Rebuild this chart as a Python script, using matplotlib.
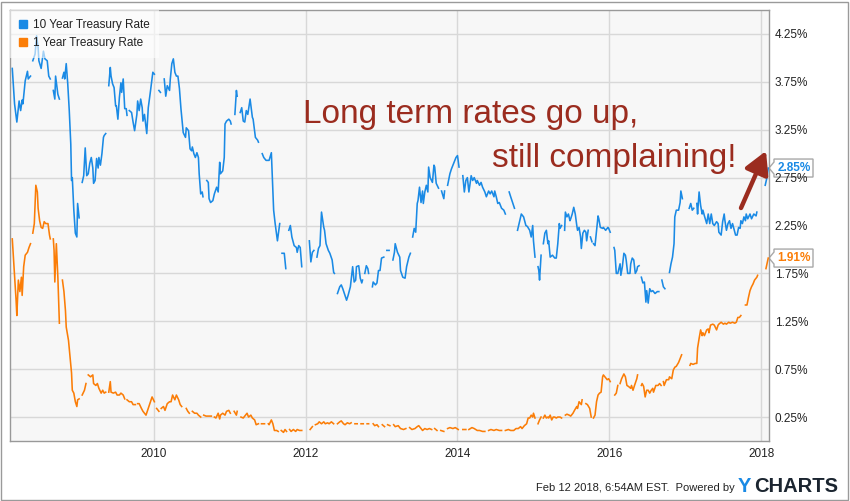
"""10 Year vs 1 Year Treasury Rate, YCharts style, Feb 2008 - Feb 2018."""

import matplotlib
matplotlib.use("Agg")
import matplotlib.pyplot as plt
import matplotlib.transforms as mtransforms
import numpy as np
from matplotlib.lines import Line2D
from matplotlib.patches import FancyArrowPatch, Polygon, Rectangle

plt.rcParams["font.family"] = ["Liberation Sans", "DejaVu Sans"]

BLUE = "#1a8ae5"
ORANGE = "#fb7d07"
RED = "#9b2c1f"

# each inner list is one unbroken stretch of the line (gaps = missing weeks)
TEN_DATES = [
    [2008.14, 2008.17, 2008.20, 2008.23, 2008.25, 2008.27, 2008.28, 2008.31, 2008.34, 2008.35, 2008.38],
    [2008.41, 2008.44, 2008.46, 2008.48, 2008.49, 2008.52, 2008.55, 2008.57, 2008.60, 2008.62, 2008.64],
    [2008.68, 2008.70, 2008.71, 2008.74, 2008.76],
    [2008.80, 2008.82, 2008.83, 2008.85, 2008.87, 2008.89, 2008.91, 2008.92, 2008.93, 2008.95, 2008.97,
     2008.99, 2009.00, 2009.02],
    [2009.06, 2009.08, 2009.10, 2009.12, 2009.14, 2009.16, 2009.18, 2009.20, 2009.21, 2009.23, 2009.25,
     2009.27, 2009.28, 2009.30, 2009.32, 2009.34, 2009.35, 2009.37],
    [2009.41, 2009.43, 2009.44, 2009.46, 2009.48, 2009.50, 2009.51, 2009.53, 2009.55, 2009.57, 2009.58,
     2009.60, 2009.62, 2009.64, 2009.65],
    [2009.68, 2009.71, 2009.73, 2009.75, 2009.78, 2009.79, 2009.81, 2009.83, 2009.85, 2009.86, 2009.88,
     2009.91, 2009.93, 2009.96, 2009.99, 2010.01],
    [2010.07, 2010.09],
    [2010.14, 2010.16, 2010.18, 2010.21, 2010.22, 2010.24, 2010.26, 2010.28, 2010.30, 2010.32, 2010.34,
     2010.36, 2010.39, 2010.42, 2010.43, 2010.46, 2010.48, 2010.50, 2010.51, 2010.53, 2010.55, 2010.57,
     2010.59, 2010.60, 2010.62, 2010.64, 2010.65],
    [2010.70, 2010.72, 2010.73, 2010.75, 2010.78, 2010.80, 2010.83, 2010.85, 2010.87, 2010.88, 2010.91,
     2010.93, 2010.94, 2010.96, 2010.99, 2011.01, 2011.02],
    [2011.07, 2011.09, 2011.10],
    [2011.14, 2011.16, 2011.18, 2011.20, 2011.22, 2011.24, 2011.27, 2011.30, 2011.31, 2011.34, 2011.37,
     2011.38],
    [2011.43, 2011.45, 2011.48, 2011.52, 2011.55, 2011.58, 2011.60, 2011.63, 2011.66],
    [2011.69, 2011.72, 2011.74],
    [2011.78, 2011.80, 2011.82, 2011.85, 2011.88, 2011.89, 2011.91, 2011.93, 2011.95],
    [2012.05, 2012.07, 2012.09, 2012.11],
    [2012.15, 2012.17, 2012.19, 2012.21, 2012.24, 2012.25, 2012.27, 2012.30, 2012.32, 2012.35, 2012.37,
     2012.38],
    [2012.42, 2012.45, 2012.47, 2012.49, 2012.52, 2012.54, 2012.56, 2012.59, 2012.60, 2012.62, 2012.64,
     2012.66, 2012.67, 2012.70, 2012.72, 2012.74, 2012.75],
    [2012.78, 2012.80, 2012.82, 2012.83],
    [2012.88, 2012.89, 2012.92, 2012.94, 2012.96, 2012.98, 2013.00, 2013.03],
    [2013.07, 2013.10],
    [2013.15, 2013.17, 2013.18, 2013.21, 2013.24, 2013.25, 2013.28, 2013.31, 2013.33, 2013.36, 2013.38],
    [2013.41, 2013.43, 2013.45, 2013.47, 2013.48, 2013.50, 2013.52, 2013.54, 2013.55, 2013.57, 2013.59,
     2013.61, 2013.62, 2013.64, 2013.67, 2013.69, 2013.70, 2013.72, 2013.75],
    [2013.79, 2013.82, 2013.83],
    [2013.87, 2013.90, 2013.92, 2013.95, 2013.98, 2014.00, 2014.02],
    [2014.07, 2014.09, 2014.11, 2014.13, 2014.15, 2014.18, 2014.20, 2014.22, 2014.25, 2014.26, 2014.29,
     2014.31, 2014.33, 2014.36, 2014.38, 2014.41, 2014.43, 2014.45, 2014.48, 2014.49, 2014.51, 2014.53,
     2014.55, 2014.58, 2014.61, 2014.63],
    [2014.68, 2014.70, 2014.73, 2014.75],
    [2014.79, 2014.82, 2014.84, 2014.87, 2014.90, 2014.92, 2014.95, 2014.97, 2014.99, 2015.00, 2015.02],
    [2015.06, 2015.07, 2015.08, 2015.10],
    [2015.13, 2015.15, 2015.17, 2015.19, 2015.20, 2015.22, 2015.25, 2015.28, 2015.30, 2015.32, 2015.34,
     2015.35, 2015.37],
    [2015.41, 2015.42, 2015.44, 2015.46, 2015.48, 2015.49, 2015.51, 2015.53, 2015.55, 2015.57, 2015.58,
     2015.60, 2015.62, 2015.63, 2015.65, 2015.67, 2015.69, 2015.70, 2015.72],
    [2015.75, 2015.77],
    [2015.79, 2015.81, 2015.83, 2015.85, 2015.86, 2015.88, 2015.91, 2015.92, 2015.95, 2015.98, 2015.99,
     2016.01],
    [2016.06, 2016.07, 2016.09, 2016.11, 2016.14, 2016.15, 2016.17, 2016.19, 2016.21, 2016.22, 2016.24,
     2016.27, 2016.28, 2016.30, 2016.32, 2016.34, 2016.36, 2016.37, 2016.39],
    [2016.42, 2016.44, 2016.46, 2016.48, 2016.49, 2016.51, 2016.53, 2016.55, 2016.57, 2016.60, 2016.63,
     2016.65],
    [2016.69, 2016.71, 2016.73],
    [2016.79, 2016.81, 2016.83, 2016.85, 2016.86, 2016.88, 2016.91, 2016.93, 2016.94, 2016.96],
    [2017.05, 2017.07, 2017.09, 2017.11],
    [2017.15, 2017.16, 2017.18, 2017.20, 2017.22, 2017.23, 2017.25, 2017.28, 2017.30, 2017.32, 2017.34,
     2017.36, 2017.38, 2017.41, 2017.43, 2017.44, 2017.47, 2017.49, 2017.51, 2017.52, 2017.54, 2017.56,
     2017.58, 2017.60, 2017.62, 2017.65, 2017.66, 2017.68, 2017.70, 2017.72, 2017.73, 2017.75, 2017.77,
     2017.79, 2017.80, 2017.82, 2017.85, 2017.87, 2017.90, 2017.93, 2017.94],
    [2018.05, 2018.07, 2018.09],
]
TEN_VALS = [
    [3.89, 3.52, 3.33, 3.55, 3.45, 3.56, 3.52, 3.76, 3.86, 3.78, 3.81],
    [3.97, 4.04, 4.23, 4.11, 3.97, 3.89, 4.07, 3.99, 3.97, 3.81, 3.78],
    [3.66, 3.57, 3.81, 3.62, 3.57],
    [3.79, 3.85, 3.78, 3.94, 3.73, 3.45, 3.10, 2.72, 2.75, 2.41, 2.17, 2.13, 2.48, 2.33],
    [2.70, 2.77, 3.06, 2.77, 2.79, 2.90, 2.96, 2.85, 2.69, 2.72, 2.95, 2.85, 2.96, 2.88, 3.00, 3.17,
     3.19, 3.21],
    [3.71, 3.90, 3.81, 3.73, 3.69, 3.50, 3.50, 3.36, 3.59, 3.74, 3.64, 3.78, 3.47, 3.47, 3.40],
    [3.45, 3.43, 3.33, 3.24, 3.41, 3.55, 3.45, 3.57, 3.48, 3.34, 3.41, 3.21, 3.48, 3.66, 3.85, 3.83],
    [3.66, 3.64],
    [3.78, 3.60, 3.71, 3.66, 3.78, 3.94, 3.99, 3.85, 3.81, 3.81, 3.68, 3.47, 3.22, 3.17, 3.27, 3.24,
     3.05, 3.03, 3.07, 3.00, 2.96, 3.01, 2.96, 2.79, 2.58, 2.60, 2.55],
    [2.72, 2.70, 2.53, 2.49, 2.51, 2.58, 2.65, 2.60, 2.91, 2.79, 2.82, 2.96, 3.31, 3.34, 3.36, 3.34, 3.31],
    [3.41, 3.66, 3.60],
    [3.43, 3.48, 3.34, 3.33, 3.45, 3.41, 3.57, 3.38, 3.36, 3.17, 3.14, 3.12],
    [3.00, 2.96, 2.93, 2.93, 3.01, 2.41, 2.27, 2.09, 2.27],
    [1.96, 1.96, 1.80],
    [2.20, 2.25, 2.13, 2.04, 2.02, 1.97, 2.04, 2.02, 1.82],
    [2.09, 1.87, 1.97, 1.99],
    [1.92, 2.01, 2.04, 2.39, 2.23, 2.20, 2.06, 1.99, 1.96, 1.89, 1.76, 1.75],
    [1.54, 1.61, 1.63, 1.59, 1.52, 1.47, 1.52, 1.61, 1.68, 1.82, 1.66, 1.68, 1.82, 1.83, 1.70, 1.65, 1.68],
    [1.75, 1.83, 1.80, 1.75],
    [1.61, 1.66, 1.63, 1.65, 1.78, 1.78, 1.91, 1.92],
    [1.99, 1.99],
    [1.89, 1.97, 2.06, 1.97, 1.92, 1.78, 1.71, 1.70, 1.82, 1.92, 1.96],
    [2.13, 2.22, 2.18, 2.48, 2.51, 2.65, 2.49, 2.61, 2.48, 2.60, 2.67, 2.60, 2.86, 2.75, 2.70, 2.88,
     2.86, 2.69, 2.64],
    [2.61, 2.53, 2.61],
    [2.67, 2.79, 2.84, 2.90, 2.96, 2.98, 2.86],
    [2.77, 2.60, 2.72, 2.75, 2.60, 2.77, 2.72, 2.75, 2.69, 2.72, 2.67, 2.70, 2.65, 2.60, 2.55, 2.61,
     2.58, 2.61, 2.55, 2.61, 2.55, 2.48, 2.49, 2.43, 2.41, 2.37],
    [2.60, 2.55, 2.48, 2.43],
    [2.20, 2.30, 2.37, 2.34, 2.25, 2.24, 2.20, 2.13, 2.25, 2.09, 1.92],
    [1.82, 1.78, 1.68, 1.94],
    [2.06, 2.17, 2.20, 2.06, 2.09, 1.92, 1.94, 1.91, 1.91, 2.06, 2.27, 2.22, 2.25],
    [2.20, 2.39, 2.34, 2.37, 2.30, 2.32, 2.37, 2.44, 2.37, 2.25, 2.20, 2.23, 2.13, 2.01, 2.17, 2.20,
     2.18, 2.09, 2.20],
    [2.13, 2.08],
    [2.06, 2.04, 2.20, 2.35, 2.32, 2.23, 2.22, 2.23, 2.20, 2.23, 2.22, 2.18],
    [2.02, 1.99, 1.75, 1.75, 1.85, 1.73, 1.82, 1.96, 1.94, 1.89, 1.75, 1.75, 1.85, 1.91, 1.89, 1.75,
     1.78, 1.82, 1.83],
    [1.71, 1.65, 1.66, 1.45, 1.57, 1.44, 1.59, 1.56, 1.57, 1.54, 1.56, 1.56],
    [1.68, 1.61, 1.59],
    [1.76, 1.85, 1.92, 2.06, 2.34, 2.41, 2.41, 2.49, 2.61, 2.53],
    [2.43, 2.48, 2.41, 2.43],
    [2.48, 2.37, 2.60, 2.46, 2.37, 2.41, 2.35, 2.27, 2.37, 2.27, 2.37, 2.27, 2.25, 2.29, 2.27, 2.18,
     2.15, 2.29, 2.37, 2.30, 2.20, 2.27, 2.30, 2.22, 2.27, 2.18, 2.15, 2.15, 2.23, 2.22, 2.30, 2.27,
     2.34, 2.30, 2.37, 2.32, 2.37, 2.32, 2.37, 2.35, 2.39],
    [2.67, 2.74, 2.85],
]

ONE_DATES = [
    [2008.14, 2008.16, 2008.19, 2008.20, 2008.22, 2008.24, 2008.26, 2008.27, 2008.29, 2008.31, 2008.34,
     2008.36, 2008.38],
    [2008.41, 2008.43, 2008.45, 2008.47, 2008.48, 2008.50, 2008.52, 2008.54, 2008.56, 2008.58, 2008.61,
     2008.63, 2008.64],
    [2008.68, 2008.69, 2008.70, 2008.72, 2008.74, 2008.76],
    [2008.80, 2008.82, 2008.84, 2008.85, 2008.88, 2008.90, 2008.92, 2008.93, 2008.95, 2008.97, 2008.99,
     2009.00, 2009.02],
    [2009.06, 2009.09, 2009.11],
    [2009.14, 2009.17, 2009.20, 2009.21, 2009.24, 2009.26, 2009.28, 2009.31, 2009.33, 2009.35, 2009.37],
    [2009.41, 2009.43, 2009.44, 2009.47, 2009.50, 2009.52, 2009.55, 2009.57, 2009.60, 2009.62],
    [2009.65, 2009.68, 2009.71, 2009.73, 2009.76],
    [2009.79, 2009.81, 2009.84, 2009.86, 2009.90, 2009.93, 2009.95, 2009.98, 2010.01],
    [2010.04, 2010.07],
    [2010.10, 2010.13, 2010.15, 2010.18, 2010.21, 2010.23, 2010.25, 2010.28, 2010.30, 2010.33, 2010.35,
     2010.37],
    [2010.43, 2010.45, 2010.47],
    [2010.51, 2010.54, 2010.57, 2010.59, 2010.62],
    [2010.66, 2010.69, 2010.72, 2010.76],
    [2010.80, 2010.82, 2010.85, 2010.87, 2010.88, 2010.91, 2010.94, 2010.96, 2010.99, 2011.01],
    [2011.06, 2011.09, 2011.10],
    [2011.15, 2011.18, 2011.21, 2011.23, 2011.25, 2011.28, 2011.30, 2011.33, 2011.35, 2011.38],
    [2011.42, 2011.46],
    [2011.51, 2011.52, 2011.55, 2011.57, 2011.59, 2011.62, 2011.64],
    [2011.68, 2011.71, 2011.73, 2011.75],
    [2011.79, 2011.81, 2011.84, 2011.87, 2011.89, 2011.92, 2011.95],
    [2012.06, 2012.09],
    [2012.13, 2012.16, 2012.18, 2012.21, 2012.24, 2012.26, 2012.29, 2012.31, 2012.34, 2012.37],
    [2012.42, 2012.45, 2012.47, 2012.50, 2012.52, 2012.55, 2012.58, 2012.60],
    [2012.65, 2012.68],
    [2012.73, 2012.76],
    [2012.81, 2012.83],
    [2012.89, 2012.91, 2012.94, 2012.96],
    [2013.01, 2013.04],
    [2013.08, 2013.11],
    [2013.16, 2013.18, 2013.22, 2013.25, 2013.29, 2013.32],
    [2013.37, 2013.40, 2013.44, 2013.47, 2013.49, 2013.52, 2013.54, 2013.57, 2013.60, 2013.63, 2013.66],
    [2013.70, 2013.73],
    [2013.78, 2013.82],
    [2013.87, 2013.90, 2013.94, 2013.97, 2014.01],
    [2014.07, 2014.11],
    [2014.15, 2014.19, 2014.22, 2014.26, 2014.29, 2014.33, 2014.36],
    [2014.41, 2014.44, 2014.48, 2014.51, 2014.55, 2014.58],
    [2014.63, 2014.67, 2014.70, 2014.74, 2014.77, 2014.80, 2014.83, 2014.85, 2014.88, 2014.91, 2014.93,
     2014.95, 2014.97, 2014.99, 2015.00, 2015.02],
    [2015.06, 2015.08, 2015.10],
    [2015.13, 2015.15, 2015.17, 2015.19, 2015.20, 2015.22, 2015.24, 2015.26, 2015.28, 2015.30, 2015.32,
     2015.35, 2015.37],
    [2015.42, 2015.44, 2015.47, 2015.49, 2015.52, 2015.54, 2015.57, 2015.58, 2015.60, 2015.63, 2015.64],
    [2015.69, 2015.71, 2015.74, 2015.76],
    [2015.79, 2015.81, 2015.83, 2015.85, 2015.87, 2015.89, 2015.91, 2015.92, 2015.94, 2015.97, 2015.99,
     2016.01],
    [2016.07, 2016.09, 2016.11],
    [2016.14, 2016.16, 2016.19, 2016.21, 2016.23, 2016.25, 2016.28, 2016.29, 2016.31, 2016.33, 2016.36,
     2016.37],
    [2016.42, 2016.43, 2016.45, 2016.47, 2016.49, 2016.51, 2016.53, 2016.55, 2016.57, 2016.58, 2016.61,
     2016.64, 2016.66, 2016.68],
    [2016.71, 2016.72, 2016.75, 2016.78, 2016.79, 2016.82, 2016.84, 2016.86, 2016.88, 2016.91, 2016.94,
     2016.95],
    [2017.06, 2017.07, 2017.10, 2017.13, 2017.15, 2017.16, 2017.18, 2017.20, 2017.22, 2017.23, 2017.25,
     2017.28, 2017.30, 2017.31, 2017.33, 2017.36, 2017.38, 2017.41, 2017.43, 2017.44, 2017.47, 2017.50,
     2017.52, 2017.54, 2017.57, 2017.59, 2017.62, 2017.65, 2017.67, 2017.69, 2017.71, 2017.73],
    [2017.79, 2017.81, 2017.83, 2017.85, 2017.87, 2017.89, 2017.91, 2017.94, 2017.95],
    [2018.06, 2018.09],
]
ONE_VALS = [
    [2.11, 1.85, 1.47, 1.31, 1.68, 1.56, 1.71, 1.52, 1.82, 1.94, 1.97, 2.02, 2.06],
    [2.17, 2.27, 2.67, 2.60, 2.43, 2.30, 2.23, 2.22, 2.29, 2.27, 2.27, 2.15, 2.11],
    [2.11, 1.99, 1.66, 2.06, 1.71, 1.23],
    [1.68, 1.56, 1.36, 1.19, 1.05, 0.88, 0.71, 0.53, 0.50, 0.41, 0.36, 0.43, 0.44],
    [0.48, 0.53, 0.60],
    [0.69, 0.67, 0.69, 0.60, 0.58, 0.60, 0.55, 0.50, 0.53, 0.50, 0.51],
    [0.51, 0.62, 0.51, 0.50, 0.51, 0.48, 0.48, 0.50, 0.48, 0.44],
    [0.43, 0.41, 0.41, 0.38, 0.38],
    [0.39, 0.39, 0.34, 0.31, 0.27, 0.34, 0.39, 0.46, 0.41],
    [0.34, 0.31],
    [0.34, 0.36, 0.32, 0.39, 0.41, 0.41, 0.48, 0.43, 0.48, 0.43, 0.38, 0.36],
    [0.34, 0.31, 0.29],
    [0.31, 0.29, 0.29, 0.27, 0.25],
    [0.27, 0.26, 0.26, 0.26],
    [0.25, 0.24, 0.29, 0.23, 0.27, 0.29, 0.27, 0.31, 0.32, 0.29],
    [0.31, 0.27, 0.31],
    [0.25, 0.24, 0.27, 0.29, 0.25, 0.27, 0.24, 0.22, 0.17, 0.18],
    [0.18, 0.18],
    [0.18, 0.17, 0.22, 0.18, 0.11, 0.11, 0.10],
    [0.11, 0.09, 0.12, 0.10],
    [0.12, 0.10, 0.12, 0.10, 0.12, 0.11, 0.11],
    [0.12, 0.15],
    [0.17, 0.18, 0.20, 0.18, 0.20, 0.18, 0.19, 0.18, 0.20, 0.18],
    [0.18, 0.20, 0.21, 0.18, 0.17, 0.19, 0.18, 0.19],
    [0.18, 0.18],
    [0.18, 0.18],
    [0.18, 0.18],
    [0.18, 0.16, 0.17, 0.15],
    [0.17, 0.15],
    [0.17, 0.16],
    [0.17, 0.15, 0.16, 0.13, 0.12, 0.13],
    [0.14, 0.12, 0.13, 0.15, 0.16, 0.13, 0.11, 0.13, 0.12, 0.13, 0.12],
    [0.13, 0.11],
    [0.11, 0.10],
    [0.13, 0.14, 0.13, 0.14, 0.12],
    [0.12, 0.12],
    [0.12, 0.14, 0.13, 0.11, 0.11, 0.10, 0.10],
    [0.11, 0.12, 0.11, 0.12, 0.11, 0.11],
    [0.11, 0.12, 0.11, 0.11, 0.13, 0.13, 0.15, 0.13, 0.16, 0.18, 0.24, 0.24, 0.27, 0.25, 0.29, 0.24],
    [0.18, 0.22, 0.25],
    [0.24, 0.27, 0.24, 0.25, 0.24, 0.27, 0.22, 0.25, 0.25, 0.24, 0.25, 0.25, 0.24],
    [0.27, 0.28, 0.27, 0.26, 0.29, 0.32, 0.36, 0.34, 0.41, 0.38, 0.43],
    [0.39, 0.38, 0.34, 0.25],
    [0.24, 0.27, 0.41, 0.48, 0.50, 0.51, 0.67, 0.69, 0.67, 0.64, 0.65, 0.62],
    [0.48, 0.50, 0.58],
    [0.60, 0.65, 0.70, 0.67, 0.58, 0.57, 0.55, 0.58, 0.53, 0.58, 0.65, 0.69],
    [0.58, 0.60, 0.57, 0.46, 0.53, 0.53, 0.50, 0.53, 0.55, 0.51, 0.58, 0.58, 0.60, 0.58],
    [0.62, 0.58, 0.64, 0.64, 0.67, 0.65, 0.74, 0.77, 0.78, 0.82, 0.88, 0.90],
    [0.79, 0.81, 0.80, 0.81, 0.81, 0.97, 1.07, 1.16, 1.10, 1.13, 1.10, 1.16, 1.17, 1.13, 1.21, 1.22,
     1.21, 1.16, 1.21, 1.22, 1.24, 1.22, 1.23, 1.22, 1.24, 1.23, 1.24, 1.23, 1.24, 1.29, 1.29, 1.31],
    [1.42, 1.42, 1.50, 1.57, 1.61, 1.64, 1.68, 1.71, 1.73],
    [1.80, 1.91],
]

SERIES = ["10 Year Treasury Rate", "1 Year Treasury Rate"]
Y_TICKS = [0.25, 0.75, 1.25, 1.75, 2.25, 2.75, 3.25, 3.75, 4.25]
X_TICKS = [2010, 2012, 2014, 2016, 2018]


def joined(segments):
    # glue stretches together with NaN so the line breaks at the gaps
    out = []
    for seg in segments:
        out.extend(seg)
        out.append(np.nan)
    return np.array(out[:-1])


def end_label(fig, ax, value, color):
    # white tag with a small pointer, hung on the right edge of the plot
    off = mtransforms.ScaledTranslation(1.0, value, ax.get_yaxis_transform())
    shape = [(0, 0), (5, 6), (5, 9), (44, 9), (44, -9), (5, -9), (5, -6)]
    fig.patches.append(Polygon(shape, closed=True, transform=mtransforms.Affine2D() + off,
                               facecolor="white", edgecolor="#a8a8a8", lw=1, zorder=-1))
    ax.annotate(f"{value:.2f}%", xy=(1.0, value), xycoords=ax.get_yaxis_transform(),
                xytext=(25, 0), textcoords="offset pixels", ha="center", va="center",
                fontsize=8.5, fontweight="bold", color=color, annotation_clip=False)


def main():
    fig = plt.figure(figsize=(8.5, 5.01), dpi=100)
    ax = fig.add_axes([10 / 850, 1 - 441 / 501, 759 / 850, 431 / 501])
    ax.set_facecolor("#f7f7f7")

    ten_x, ten_y = joined(TEN_DATES), joined(TEN_VALS)
    one_x, one_y = joined(ONE_DATES), joined(ONE_VALS)
    ax.plot(ten_x, ten_y, color=BLUE, lw=1.15, zorder=3)
    ax.plot(one_x, one_y, color=ORANGE, lw=1.15, zorder=3)

    ax.set_xlim(2008.11, 2018.10)
    ax.set_ylim(0, 4.5)
    ax.set_xticks(X_TICKS)
    ax.set_xticklabels([str(t) for t in X_TICKS])
    ax.set_yticks(Y_TICKS)
    ax.set_yticklabels([f"{t:.2f}%" for t in Y_TICKS])
    ax.yaxis.tick_right()
    ax.tick_params(length=0, labelsize=8.5, labelcolor="#222222")
    ax.tick_params(axis="y", pad=4)
    ax.tick_params(axis="x", pad=5)
    ax.grid(True, color="#d8d8d8", lw=1)
    ax.set_axisbelow(True)
    for sp in ax.spines.values():
        sp.set_color("#999999")
        sp.set_linewidth(1)

    handles = [Line2D([], [], marker="s", ls="none", color=c, markersize=5.5) for c in (BLUE, ORANGE)]
    leg = ax.legend(handles, SERIES, loc="upper left", bbox_to_anchor=(0, 1), borderaxespad=0,
                    fontsize=8.5, frameon=True, fancybox=False, facecolor="white", framealpha=0.6,
                    edgecolor="none", handlelength=0.7, handletextpad=0.5, borderpad=0.75,
                    labelspacing=0.5)
    for t in leg.get_texts():
        t.set_color("#222222")

    end_label(fig, ax, TEN_VALS[-1][-1], BLUE)
    end_label(fig, ax, ONE_VALS[-1][-1], ORANGE)

    fig.text(303 / 850, 1 - 123 / 501, "Long term rates go up,", fontsize=24, color=RED,
             va="baseline", ha="left")
    fig.text(737 / 850, 1 - 167 / 501, "still complaining!", fontsize=24, color=RED,
             va="baseline", ha="right")
    fig.patches.append(FancyArrowPatch((741 / 850, 1 - 208 / 501), (766 / 850, 1 - 151 / 501),
                                       transform=fig.transFigure, arrowstyle="-|>,head_length=0.45,head_width=0.25",
                                       mutation_scale=30, lw=3.2, color=RED, shrinkA=0, shrinkB=0))

    fig.text(735 / 850, 1 - 488 / 501, "Feb 12 2018, 6:54AM EST.  Powered by", fontsize=8,
             color="#222222", ha="right", va="center")
    fig.text(738 / 850, 1 - 486 / 501, "Y", fontsize=14.5, fontweight="bold", color=BLUE,
             ha="left", va="center")
    fig.text(754 / 850, 1 - 486 / 501, "CHARTS", fontsize=14.5, fontweight="bold", color="#1b2530",
             ha="left", va="center")

    fig.patches.append(Rectangle((1 / 850, 1 / 501), 847 / 850, 498 / 501, transform=fig.transFigure,
                                 fill=False, edgecolor="#9a9a9a", lw=1))

    fig.savefig("out.png", dpi=100)


if __name__ == "__main__":
    main()
